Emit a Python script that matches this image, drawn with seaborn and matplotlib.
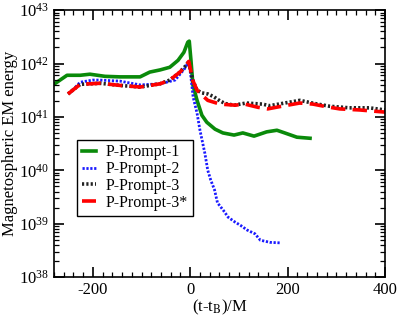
import numpy as np
import pandas as pd
import seaborn as sns
import matplotlib.pyplot as plt
from matplotlib.ticker import LogLocator, MultipleLocator, NullFormatter

# values: time (t-tB)/M and log10 of EM energy
t_p1 = [-280, -253, -226, -206, -175, -144, -103, -83, -62, -42, -25, -13, -5, -2,
        1.5, 5.5, 14, 24, 34, 51, 67, 90, 108, 131, 157, 178, 194, 219, 246]
e_p1 = [41.61, 41.78, 41.78, 41.80, 41.76, 41.75, 41.75, 41.84, 41.88, 41.93, 42.06,
        42.21, 42.40, 42.42, 42.06, 41.60, 41.31, 41.03, 40.90, 40.77, 40.70, 40.66,
        40.70, 40.64, 40.72, 40.75, 40.70, 40.62, 40.60]

t_p2 = [-247, -226, -200, -185, -144, -103, -62, -31, -11, -3, 1, 6, 14, 20, 30, 36,
        42, 50, 56, 68, 78, 92, 103, 117, 133, 144, 164, 186]
e_p2 = [41.45, 41.65, 41.69, 41.69, 41.67, 41.60, 41.62, 41.69, 41.91, 42.04, 41.78,
        41.37, 41.07, 40.75, 40.32, 40.00, 39.82, 39.63, 39.39, 39.25, 39.12, 39.03,
        38.97, 38.88, 38.81, 38.69, 38.65, 38.64]

t_p3 = [-251, -226, -185, -144, -103, -62, -42, -21, -8, -3, 5, 14, 24, 36, 48, 61,
        72, 90, 115, 131, 148, 163, 194, 225, 256, 286, 327, 368, 400]
e_p3 = [41.43, 41.61, 41.63, 41.59, 41.56, 41.62, 41.69, 41.84, 41.97, 42.04, 41.69,
        41.50, 41.45, 41.43, 41.38, 41.30, 41.25, 41.22, 41.26, 41.25, 41.24, 41.21,
        41.26, 41.31, 41.25, 41.20, 41.17, 41.17, 41.13]

t_p3s = [-251, -226, -185, -144, -103, -62, -42, -21, -8, -3, 5, 14, 24, 36, 61, 92,
         112, 139, 159, 188, 225, 252, 280, 307, 348, 400]
e_p3s = [41.43, 41.61, 41.63, 41.59, 41.56, 41.62, 41.69, 41.84, 41.97, 42.04, 41.69,
         41.50, 41.41, 41.31, 41.24, 41.22, 41.24, 41.18, 41.15, 41.20, 41.26, 41.24,
         41.19, 41.15, 41.13, 41.09]

labels = ["P-Prompt-1", "P-Prompt-2", "P-Prompt-3", "P-Prompt-3*"]

plt.rcParams['font.family'] = ['Liberation Serif', 'DejaVu Serif']
plt.rcParams['mathtext.fontset'] = 'stix'
plt.rcParams['axes.unicode_minus'] = False

fig, ax = plt.subplots(figsize=(3.99, 3.17), dpi=100)
fig.subplots_adjust(left=0.135, right=0.965, top=0.968, bottom=0.126)
ax.set_yscale("log")

series = [
    (t_p1, e_p1, "#0a8a0a", 2.6, "-"),
    (t_p2, e_p2, "#1a1aff", 2.0, (0, (0.8, 0.6))),
    (t_p3, e_p3, "#222222", 2.6, (0, (0.6, 0.6))),
    (t_p3s, e_p3s, "#ff0000", 2.6, (0, (4, 2))),
]
for (t, e, c, w, style), lab in zip(series, labels):
    df = pd.DataFrame({"t": t, "E": 10.0 ** np.array(e)})
    sns.lineplot(data=df, x="t", y="E", ax=ax, label=lab, sort=False,
                 color=c, linewidth=w)
    ax.lines[-1].set_linestyle(style)

ax.set_xlim(-280, 400)
ax.set_ylim(1e38, 1e43)
ax.xaxis.set_major_locator(MultipleLocator(200))
ax.xaxis.set_minor_locator(MultipleLocator(20))
ax.yaxis.set_major_locator(LogLocator(base=10, numticks=10))
ax.yaxis.set_minor_locator(LogLocator(base=10, subs=np.arange(2, 10), numticks=20))
ax.yaxis.set_minor_formatter(NullFormatter())
ax.set_axisbelow(False)

ax.tick_params(which="major", direction="in", top=True, right=True, bottom=True,
               left=True, length=7, width=1.2, color="black", labelsize=12)
ax.tick_params(which="minor", direction="in", top=True, right=True, bottom=True,
               left=True, length=3.5, width=0.9, color="black")
for s in ax.spines.values():
    s.set_linewidth(1.2)

ax.set_xlabel(r"(t-t$_\mathrm{B}$)/M", fontsize=12, labelpad=0)
ax.set_ylabel("Magnetospheric EM energy", fontsize=12, labelpad=1)

leg = ax.legend(loc="upper left", bbox_to_anchor=(0.07, 0.515), fontsize=11.5,
                frameon=True, fancybox=False, edgecolor="black", framealpha=1,
                handlelength=0.9, handletextpad=0.6, borderpad=0.3, labelspacing=0.05,
                borderaxespad=0)
leg.get_frame().set_linewidth(1.0)
for h, (_, _, _, _, style) in zip(leg.get_lines(), series):
    h.set_linestyle(style)

# make sure every tick mark is drawn, on top of the lines
fig.canvas.draw()
for axis in (ax.xaxis, ax.yaxis):
    for ticks, size, width in ((axis.get_major_ticks(), 7, 1.2),
                               (axis.get_minor_ticks(), 3.5, 0.9)):
        for tk in ticks:
            for tl in (tk.tick1line, tk.tick2line):
                tl.set_visible(True)
                tl.set_markersize(size)
                tl.set_markeredgewidth(width)
                tl.set_markeredgecolor("black")
                tl.set_color("black")
                tl.set_zorder(5)

fig.savefig("out.png", dpi=100)
